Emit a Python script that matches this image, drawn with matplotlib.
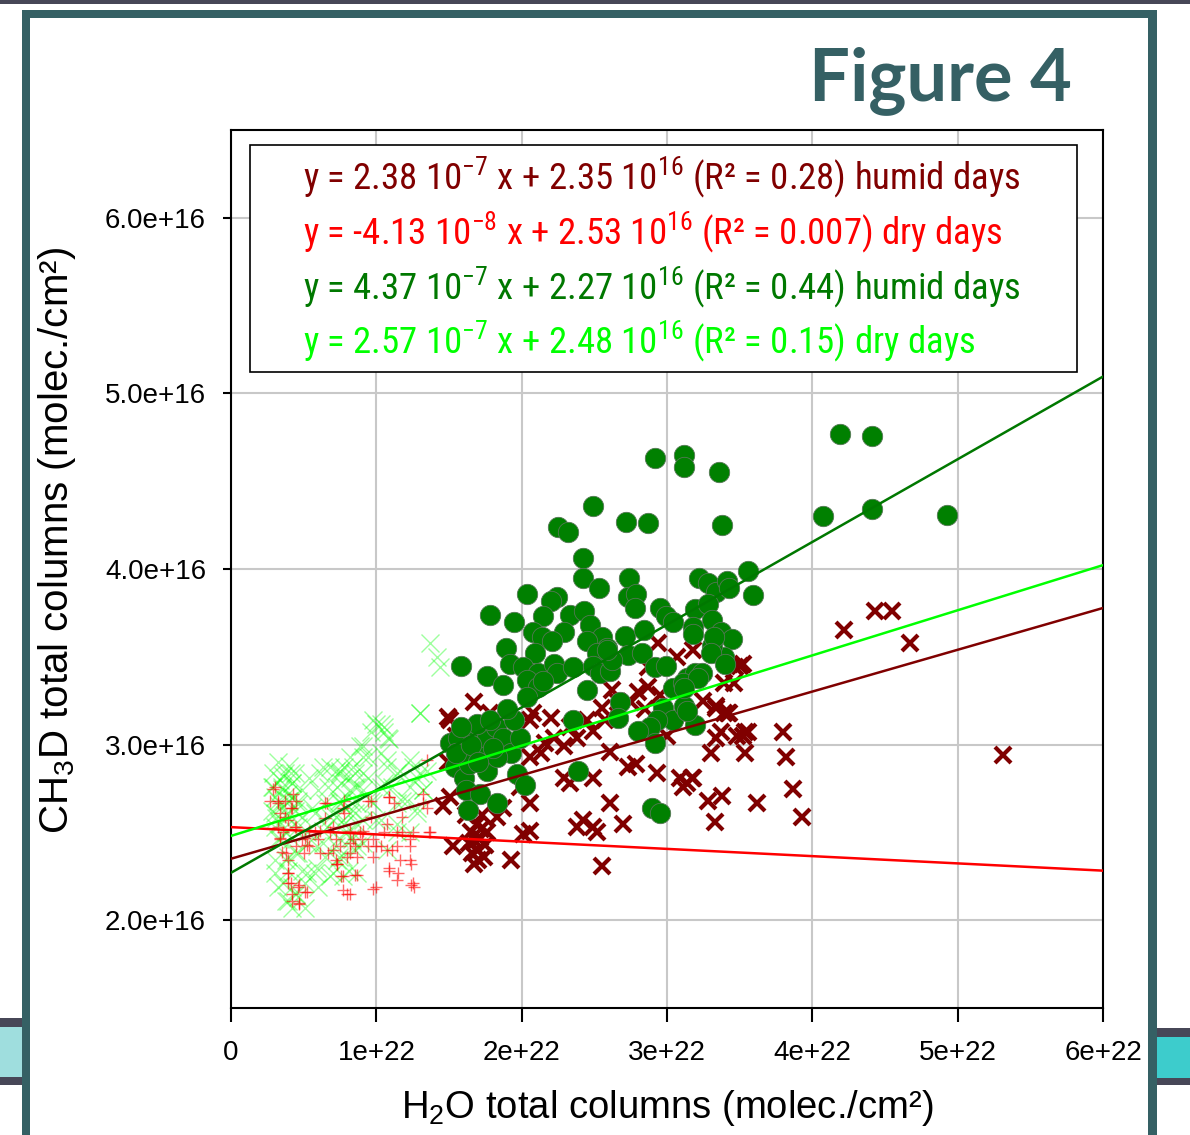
import matplotlib
matplotlib.use('Agg')
import matplotlib.pyplot as plt
from matplotlib import font_manager as fm
from matplotlib.patches import Rectangle
import numpy as np

# ---------------- data (x in 1e22 molec/cm2, y in 1e16 molec/cm2) ----------------
# humid days, dark-red crosses
hum_x_x = [4.22, 4.43, 4.55, 4.67, 5.31, 3.80, 3.82, 3.87, 3.93, 3.62, 3.54, 3.56, 3.48, 3.54,
           3.34, 3.18, 3.11, 3.28, 3.38, 3.33, 3.18, 3.52, 3.47, 3.39, 3.34, 3.42, 3.39, 2.94,
           3.07, 2.87, 2.87, 2.80, 2.75, 2.62, 2.66, 2.55, 2.57, 2.49, 2.45, 2.38, 2.33, 2.29,
           2.22, 2.16, 2.13, 2.06, 2.08, 2.20, 2.06, 2.61, 2.73, 2.79, 2.93, 3.09, 3.17, 3.14,
           3.37, 3.52, 3.34, 3.43, 2.49, 2.29, 2.33, 2.61, 2.70, 2.42, 2.38, 2.52, 2.49, 2.55,
           2.06, 2.01, 1.93, 1.99, 2.06, 1.87, 1.83, 1.67, 1.51, 1.49, 1.78, 1.53, 1.67, 1.51,
           1.46, 1.65, 1.68, 1.70, 1.72, 1.74, 1.66, 1.71, 1.75, 1.69, 1.73, 1.76, 1.64, 1.70,
           1.55, 1.62, 1.49, 2.95, 3.00, 2.85, 3.25, 3.30, 3.46, 3.50]
hum_x_y = [3.65, 3.76, 3.76, 3.58, 2.94, 3.07, 2.93, 2.75, 2.59, 2.67, 3.07, 3.07, 3.05, 2.95,
           3.04, 2.81, 2.76, 2.68, 2.71, 2.56, 3.54, 3.46, 3.44, 3.35, 3.22, 3.18, 3.18, 3.58,
           3.50, 3.44, 3.33, 3.30, 3.24, 3.31, 3.24, 3.21, 3.14, 3.08, 3.14, 3.04, 3.10, 2.99,
           3.04, 3.01, 2.95, 2.93, 3.18, 3.15, 3.14, 2.96, 2.87, 2.89, 2.84, 2.81, 2.81, 2.78,
           3.07, 3.05, 3.21, 3.18, 2.81, 2.81, 2.78, 2.67, 2.55, 2.57, 2.53, 2.50, 2.53, 2.31,
           2.51, 2.49, 2.34, 2.76, 2.67, 2.64, 2.59, 3.24, 3.14, 3.16, 3.18, 2.42, 2.32, 2.70,
           2.65, 2.50, 2.45, 2.40, 2.52, 2.36, 2.38, 2.47, 2.43, 2.55, 2.60, 2.50, 2.44, 2.34,
           3.05, 2.60, 2.90, 3.28, 3.05, 3.20, 3.25, 2.95, 3.35, 3.45]

# dry days, red plus signs
dry_p_x = [0.29, 0.32, 0.34, 0.36, 0.38, 0.39, 0.41, 0.42, 0.47, 0.46, 0.52, 0.41, 0.44, 0.45,
           0.50, 0.54, 0.61, 0.66, 0.68, 0.70, 0.73, 0.78, 0.78, 0.77, 0.80, 0.82, 0.87, 0.89,
           0.94, 0.96, 0.98, 0.98, 1.05, 1.09, 1.09, 1.12, 1.15, 1.18, 1.23, 1.24, 1.24, 1.26,
           1.32, 1.35, 1.36, 1.18, 1.14, 0.60, 0.54, 0.34, 0.32, 0.43, 0.45, 0.37, 0.39, 0.82,
           0.84, 1.00, 1.07, 0.61, 0.72,
           0.30, 0.32, 0.37, 0.34, 0.35, 0.39, 0.39, 0.39, 0.42, 0.47, 0.47, 0.51, 0.65, 0.65,
           0.70, 0.58, 0.52, 0.51, 0.67, 0.72, 0.80, 0.85, 0.90, 0.76, 0.77, 0.82, 0.85, 0.42,
           0.45, 0.49, 0.27, 1.35, 1.09, 1.32, 0.77, 0.94, 0.96, 0.91, 0.82, 0.87, 1.03, 1.11,
           1.16, 1.23, 1.25, 1.14, 1.23, 1.09, 1.14, 1.25, 0.98, 0.75, 0.73, 1.07, 1.37, 1.00]
dry_p_y = [2.75, 2.68, 2.61, 2.50, 2.38, 2.27, 2.21, 2.11, 2.10, 2.19, 2.16, 2.64, 2.53, 2.42,
           2.38, 2.42, 2.38, 2.67, 2.50, 2.40, 2.32, 2.68, 2.61, 2.25, 2.15, 2.38, 2.26, 2.50,
           2.42, 2.68, 2.36, 2.18, 2.50, 2.70, 2.30, 2.67, 2.27, 2.59, 2.46, 2.32, 2.20, 2.19,
           2.72, 2.64, 2.50, 2.50, 2.42, 2.46, 2.51, 2.46, 2.53, 2.72, 2.68, 2.68, 2.57, 2.51,
           2.46, 2.42, 2.40, 2.51, 2.46,
           2.76, 2.67, 2.59, 2.47, 2.39, 2.34, 2.27, 2.21, 2.15, 2.09, 2.20, 2.16, 2.67, 2.58,
           2.53, 2.50, 2.43, 2.47, 2.38, 2.34, 2.36, 2.42, 2.46, 2.25, 2.17, 2.15, 2.26, 2.64,
           2.53, 2.46, 2.68, 2.91, 2.70, 2.67, 2.64, 2.68, 2.59, 2.51, 2.44, 2.36, 2.42, 2.40,
           2.34, 2.42, 2.50, 2.50, 2.34, 2.28, 2.23, 2.21, 2.46, 2.42, 2.32, 2.55, 2.50, 2.19]

# humid days, green circles
hum_c_x = [2.92, 3.12, 3.12, 3.36, 2.49, 2.25, 2.32, 2.72, 2.87, 3.38, 2.42, 2.42, 2.53, 2.74,
           2.73, 2.79, 2.78, 2.04, 2.24, 2.20, 1.78, 1.95, 2.15, 2.33, 2.43, 2.47, 2.29, 2.08,
           2.14, 2.21, 2.55, 2.59, 2.71, 2.84, 2.95, 2.99, 3.04, 3.22, 3.28, 3.34, 3.41, 3.43,
           3.56, 3.59, 3.19, 3.28, 3.31, 3.18, 3.37, 3.45, 3.39, 3.31, 1.89, 2.09, 2.73, 2.83,
           2.45, 2.52, 1.92, 1.58, 1.76, 1.87, 2.01, 2.11, 2.22, 2.24, 2.35, 2.04, 2.11, 2.15,
           2.04, 2.45, 2.49, 2.54, 2.61, 2.62, 2.59, 2.92, 2.99, 3.14, 3.19, 3.24, 3.04, 3.11,
           2.97, 3.04, 3.12, 3.19, 2.93, 2.88, 2.80, 2.92, 2.68, 2.66, 2.35, 2.39, 2.90, 2.95,
           1.51, 1.56, 1.60, 1.67, 1.71, 1.76, 1.82, 1.87, 1.93, 1.99, 1.95, 1.90, 1.54, 1.60,
           1.64, 1.76, 1.83, 1.62, 1.71, 1.83, 1.63, 1.97, 2.02, 1.69, 1.78, 4.19, 4.41, 4.07,
           4.41, 4.93, 3.32, 3.18, 3.30, 3.40, 3.21, 3.12, 3.14, 1.55, 1.65, 1.70, 1.80, 1.58]
hum_c_y = [4.63, 4.65, 4.58, 4.55, 4.36, 4.24, 4.21, 4.27, 4.26, 4.25, 4.06, 3.95, 3.89, 3.95,
           3.84, 3.86, 3.78, 3.86, 3.84, 3.82, 3.74, 3.70, 3.73, 3.74, 3.76, 3.68, 3.64, 3.64,
           3.61, 3.59, 3.61, 3.55, 3.62, 3.65, 3.78, 3.73, 3.70, 3.95, 3.92, 3.87, 3.93, 3.89,
           3.99, 3.85, 3.77, 3.80, 3.71, 3.67, 3.64, 3.60, 3.50, 3.56, 3.55, 3.52, 3.51, 3.52,
           3.59, 3.52, 3.46, 3.45, 3.39, 3.34, 3.44, 3.41, 3.46, 3.41, 3.44, 3.37, 3.33, 3.36,
           3.27, 3.31, 3.45, 3.41, 3.42, 3.48, 3.54, 3.44, 3.45, 3.38, 3.41, 3.41, 3.32, 3.35,
           3.21, 3.14, 3.22, 3.11, 3.14, 3.10, 3.08, 3.01, 3.24, 3.15, 3.14, 2.85, 2.64, 2.61,
           3.01, 3.04, 2.95, 3.08, 2.99, 3.04, 3.10, 3.04, 2.95, 3.04, 3.14, 3.20, 2.87, 2.81,
           2.89, 2.85, 2.93, 2.74, 2.72, 2.67, 2.63, 2.83, 2.77, 3.12, 3.14, 4.77, 4.76, 4.30,
           4.34, 4.31, 3.61, 3.63, 3.52, 3.46, 3.38, 3.32, 3.19, 2.95, 3.00, 2.90, 2.98, 3.10]

# dry days, light-green crosses
dry_x_x = [1.37, 1.42, 1.44, 1.30, 1.00, 1.05, 1.09, 0.91, 0.94, 0.84, 0.75, 0.68, 0.61, 0.54,
           0.41, 0.34, 0.29, 0.34, 0.38, 0.36, 0.38, 0.45, 0.52, 0.59, 0.68, 0.73, 0.80, 0.68,
           0.56, 0.77, 0.87, 0.91, 0.96, 1.05, 1.07, 1.14, 1.23, 1.28, 1.32, 1.18, 1.28, 1.23,
           1.14, 1.03, 0.91, 0.82, 0.66, 0.45, 0.52, 0.59, 0.87, 1.07, 1.05, 0.30, 0.33, 0.35,
           0.37, 0.40, 0.42, 0.44, 0.31, 0.36, 0.39, 0.43, 0.46, 0.34, 0.38, 0.28, 0.40, 0.32,
           0.29, 0.37, 0.44, 0.63, 0.72, 0.78, 0.85, 0.28, 0.35, 0.42, 0.49, 0.60, 0.67, 0.76,
           0.85, 0.32, 0.39, 0.46, 0.65, 0.74, 0.83, 0.30, 0.39, 0.49, 0.58, 0.72, 0.78, 0.85,
           0.30, 0.39, 0.46, 0.63, 0.74, 0.83, 0.85, 0.32, 0.42, 0.53, 0.63, 0.72, 0.30, 0.39,
           0.46, 0.65, 0.74, 0.30, 0.39, 0.49, 0.58, 0.70, 0.81, 0.32, 0.42, 0.51, 0.60, 0.39,
           0.46, 0.42, 0.51,
           1.30, 1.03, 0.98, 1.08, 0.96, 0.89, 0.82, 0.91, 1.03, 1.07, 1.16, 1.25, 1.30, 1.35,
           0.75, 0.82, 0.94, 0.73, 0.82, 0.91, 1.03, 1.11, 1.23, 1.32, 0.75, 0.87, 0.98, 1.14,
           1.21, 1.28, 0.77, 0.87, 1.00, 1.14, 0.82, 0.91, 0.77, 0.87, 0.77]
dry_x_y = [3.58, 3.50, 3.44, 3.18, 3.12, 3.10, 3.03, 2.99, 2.93, 2.87, 2.84, 2.87, 2.84, 2.81,
           2.84, 2.80, 2.76, 2.46, 2.34, 2.21, 2.11, 2.15, 2.27, 2.30, 2.25, 2.34, 2.50, 2.59,
           2.64, 2.68, 2.76, 2.84, 2.68, 2.78, 2.91, 2.84, 2.91, 2.81, 2.74, 2.68, 2.61, 2.50,
           2.50, 2.57, 2.57, 2.61, 2.53, 2.38, 2.50, 2.42, 2.42, 2.40, 3.07, 2.70, 2.65, 2.75,
           2.60, 2.68, 2.78, 2.62, 2.58, 2.82, 2.72, 2.70, 2.66, 2.55, 2.50, 2.62, 2.88, 2.90,
           2.84, 2.84, 2.84, 2.87, 2.85, 2.87, 2.84, 2.76, 2.76, 2.78, 2.74, 2.74, 2.76, 2.78,
           2.76, 2.68, 2.68, 2.68, 2.67, 2.68, 2.67, 2.61, 2.61, 2.59, 2.61, 2.59, 2.55, 2.61,
           2.53, 2.55, 2.53, 2.51, 2.47, 2.46, 2.40, 2.46, 2.46, 2.44, 2.44, 2.42, 2.34, 2.36,
           2.38, 2.36, 2.36, 2.27, 2.28, 2.28, 2.27, 2.27, 2.28, 2.19, 2.19, 2.21, 2.19, 2.11,
           2.13, 2.07, 2.07,
           3.18, 3.12, 3.14, 3.04, 3.07, 2.99, 2.93, 2.93, 2.95, 2.87, 2.85, 2.87, 2.84, 2.85,
           2.85, 2.81, 2.81, 2.76, 2.74, 2.74, 2.76, 2.76, 2.76, 2.74, 2.67, 2.67, 2.67, 2.67,
           2.68, 2.64, 2.57, 2.55, 2.57, 2.55, 2.47, 2.44, 2.36, 2.27, 2.25]

# regression lines as drawn (slope per 1e22 -> 1e16 units, intercept in 1e16)
fit_names = ['hum_cross', 'dry_plus', 'hum_circle', 'dry_cross']
fit_slope = [0.238, -0.0413, 0.471, 0.257]
fit_icept = [2.35, 2.53, 2.27, 2.48]
fit_colors = ['#800000', '#ff0000', '#007800', '#00ff00']

legend_lines = [
    r"y = 2.38 10$^{-7}$ x + 2.35 10$^{16}$ (R² = 0.28) humid days",
    r"y = -4.13 10$^{-8}$ x + 2.53 10$^{16}$ (R² = 0.007) dry days",
    r"y = 4.37 10$^{-7}$ x + 2.27 10$^{16}$ (R² = 0.44) humid days",
    r"y = 2.57 10$^{-7}$ x + 2.48 10$^{16}$ (R² = 0.15) dry days",
]
legend_colors = ['#800000', '#ff0000', '#007800', '#00ff00']

x_ticks = [0, 1, 2, 3, 4, 5, 6]
x_ticklabels = ['0', '1e+22', '2e+22', '3e+22', '4e+22', '5e+22', '6e+22']
y_ticks = [2, 3, 4, 5, 6]
y_ticklabels = ['2.0e+16', '3.0e+16', '4.0e+16', '5.0e+16', '6.0e+16']

# ---------------- fonts ----------------
names = {f.name for f in fm.fontManager.ttflist}
NARROW = None
for cand in ['Liberation Sans Narrow', 'Arial Narrow', 'Roboto Condensed', 'Nimbus Sans Narrow',
             'Open Sans Condensed']:
    if cand in names:
        NARROW = cand
        break
plt.rcParams['font.family'] = ['Liberation Sans', 'DejaVu Sans']
plt.rcParams['mathtext.default'] = 'regular'

W, H = 1190, 1135
fig = plt.figure(figsize=(W / 100, H / 100), dpi=100)
fig.patch.set_facecolor('white')


def rect(x0, y0, x1, y1, color, z=1):
    r = Rectangle((x0 / W, 1 - y1 / H), (x1 - x0) / W, (y1 - y0) / H,
                  transform=fig.transFigure, facecolor=color, edgecolor='none', zorder=z)
    fig.add_artist(r)


TEAL = '#356064'
DARK = '#474757'
rect(0, 0, W, 4, DARK)
rect(22, 10, 1157, 18, TEAL)
rect(22, 10, 30, H, TEAL)
rect(1148, 10, 1157, H, TEAL)
rect(0, 1018, 22, 1027, DARK)
rect(0, 1027, 22, 1077, '#9fdede')
rect(0, 1077, 22, 1085, DARK)
rect(1157, 1028, W, 1037, DARK)
rect(1157, 1037, W, 1078, '#3dcccc')
rect(1157, 1078, W, 1085, DARK)

ax = fig.add_axes([231 / W, 1 - 1008 / H, 872 / W, 878 / H])
ax.set_xlim(0, 6e22)
ax.set_ylim(1.5e16, 6.5e16)

sx, sy = 1e22, 1e16
ax.plot(np.array(dry_x_x) * sx, np.array(dry_x_y) * sy, 'x', color='#00ff00', alpha=0.38,
        ms=12.5, mew=1.0, zorder=2)
ax.plot(np.array(dry_p_x) * sx, np.array(dry_p_y) * sy, '+', color='#ff0000', alpha=0.6,
        ms=9, mew=1.0, zorder=2)
ax.plot(np.array(hum_x_x) * sx, np.array(hum_x_y) * sy, 'x', color='#800000',
        ms=12, mew=3.0, zorder=3)
ax.scatter(np.array(hum_c_x) * sx, np.array(hum_c_y) * sy, s=215, facecolor='#008000',
           edgecolor='#557755', linewidths=0.6, zorder=4)

xl = np.array([0.0, 6.0])
for m, b, c in zip(fit_slope, fit_icept, fit_colors):
    ax.plot(xl * sx, (m * xl + b) * sy, color=c, lw=1.8, zorder=5)

ax.set_xticks(np.array(x_ticks) * sx)
ax.set_xticklabels(x_ticklabels)
ax.set_yticks(np.array(y_ticks) * sy)
ax.set_yticklabels(y_ticklabels)
ax.tick_params(axis='x', length=10, width=1.5, pad=13, labelsize=20, direction='out')
ax.tick_params(axis='y', length=6, width=1.5, pad=12, labelsize=20, direction='out')
ax.grid(color='#c8c8c8', lw=1.5)
ax.set_axisbelow(True)
for s in ax.spines.values():
    s.set_linewidth(1.5)
    s.set_color('black')

fig.text(667 / W, 1 - 1108 / H, r"H$_2$O total columns (molec./cm²)", ha='center', va='center',
         fontsize=27.5)
fig.text(57 / W, 1 - 541 / H, r"CH$_3$D total columns (molec./cm²)", ha='center', va='center',
         rotation=90, fontsize=29)

# legend box with coloured equations
lb = Rectangle((250 / W, 1 - 372 / H), 827 / W, 227 / H, transform=fig.transFigure,
               facecolor='white', edgecolor='black', lw=1.2, zorder=6)
fig.add_artist(lb)
baselines = [189, 244, 299, 353]
leg_family = NARROW if NARROW else 'Liberation Sans'
leg_size = 26.5 if NARROW else 23.2
for txt, c, yb in zip(legend_lines, legend_colors, baselines):
    fig.text(303 / W, 1 - yb / H, txt, color=c, fontsize=leg_size, family=leg_family,
             ha='left', va='baseline', zorder=7)

fig.text(1072 / W, 1 - 100 / H, 'Figure 4', color=TEAL, fontsize=52, fontweight='bold',
         family=['Lato', 'DejaVu Sans'], ha='right', va='baseline')

fig.savefig('out.png', dpi=100)
